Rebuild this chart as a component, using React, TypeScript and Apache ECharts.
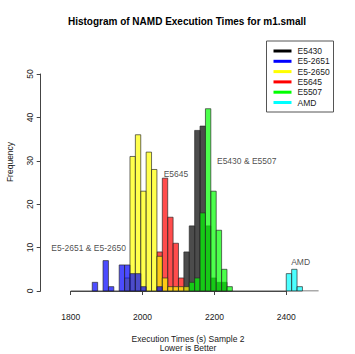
import React, { useEffect, useRef } from "react";
import * as echarts from "echarts";

const BIN_WIDTH = 15;
const seriesNames = ["E5430", "E5-2651", "E5-2650", "E5645", "E5507", "AMD"];
const legendColors = ["#000000", "#0000ff", "#ffff00", "#ff0000", "#00ff00", "#00ffff"];
const fillColors = [
  "rgba(0,0,0,0.7)",
  "rgba(0,0,255,0.7)",
  "rgba(255,255,0,0.7)",
  "rgba(255,0,0,0.7)",
  "rgba(0,255,0,0.7)",
  "rgba(0,255,255,0.7)",
];

// first bin lower edge and counts per bin (bin width 15 s)
const e5430Start = 2115;
const e5430Counts = [9, 15, 37, 38, 15, 3, 2, 2];
const e52651Start = 1860;
const e52651Counts = [2, 0, 7, 1, 0, 6, 6, 4, 4, 1, 0, 0, 1];
const e52650Start = 1950;
const e52650Counts = [3, 31, 36, 23, 32, 28, 8, 3, 1, 1, 1, 1];
const e5645Start = 2040;
const e5645Counts = [9, 26, 17, 11, 3];
const e5507Start = 2130;
const e5507Counts = [2, 3, 18, 42, 23, 14, 5, 1];
const amdStart = 2400;
const amdCounts = [4, 5, 1];

const xTicks = [1800, 2000, 2200, 2400];
const yTicks = [0, 10, 20, 30, 40, 50];

const annotations = [
  { text: "E5-2651 & E5-2650", x: 1850, y: 10 },
  { text: "E5645", x: 2093, y: 27 },
  { text: "E5430 & E5507", x: 2290, y: 30 },
  { text: "AMD", x: 2440, y: 6.6 },
];

const FONT = "Liberation Sans, Arial, Helvetica, sans-serif";
const FS = 8.5;
const TXT = "#1a1a1a";

function toBins(start: number, counts: number[]) {
  const out: number[][] = [];
  counts.forEach((c, i) => {
    if (c > 0) out.push([start + i * BIN_WIDTH, start + (i + 1) * BIN_WIDTH, c]);
  });
  return out;
}

export default function App() {
  const ref = useRef<HTMLDivElement>(null);
  useEffect(() => {
    if (!ref.current) return;
    const chart = echarts.init(ref.current, undefined, { renderer: "svg" });

    const histData: Record<string, number[][]> = {
      "E5430": toBins(e5430Start, e5430Counts),
      "E5-2651": toBins(e52651Start, e52651Counts),
      "E5-2650": toBins(e52650Start, e52650Counts),
      "E5645": toBins(e5645Start, e5645Counts),
      "E5507": toBins(e5507Start, e5507Counts),
      "AMD": toBins(amdStart, amdCounts),
    };
    // drawing order (later on top)
    const drawOrder = ["E5430", "E5645", "E5-2650", "E5-2651", "E5507", "AMD"];

    const histSeries = drawOrder.map((name) => {
      const idx = seriesNames.indexOf(name);
      const fill = fillColors[idx];
      return {
        type: "custom",
        name,
        xAxisIndex: 0,
        yAxisIndex: 0,
        encode: { x: [0, 1], y: 2 },
        data: histData[name],
        renderItem: (params: any, api: any) => {
          const p0 = api.coord([api.value(0), api.value(2)]);
          const p1 = api.coord([api.value(1), 0]);
          return {
            type: "rect",
            shape: { x: p0[0], y: p0[1], width: p1[0] - p0[0], height: p1[1] - p0[1] },
            style: { fill, stroke: "rgba(40,40,40,0.85)", lineWidth: 0.8 },
          };
        },
      };
    });

    const textStyleBase = { fontFamily: FONT, fontSize: FS, fill: TXT };

    const legendX = 266.5;
    const legendY = 41;
    const rowH = 10.3;
    const legendGraphics: any[] = [
      {
        type: "rect",
        shape: { x: legendX, y: legendY, width: 67, height: 71 },
        style: { fill: "#fff", stroke: "#555", lineWidth: 1 },
        z: 10,
      },
    ];
    seriesNames.forEach((n, i) => {
      const cy = legendY + 10 + i * rowH;
      legendGraphics.push({
        type: "line",
        shape: { x1: legendX + 7, y1: cy, x2: legendX + 25, y2: cy },
        style: { stroke: legendColors[i], lineWidth: 3 },
        z: 11,
      });
      legendGraphics.push({
        type: "text",
        x: legendX + 31,
        y: cy,
        style: { ...textStyleBase, text: n, textAlign: "left", textVerticalAlign: "middle", align: "left", verticalAlign: "middle" },
        z: 11,
      });
    });

    const option: any = {
      animation: false,
      title: {
        text: "Histogram of NAMD Execution Times for m1.small",
        left: 187,
        top: 16,
        padding: 0,
        textAlign: "center",
        textStyle: { fontFamily: FONT, fontSize: 10, fontWeight: "bold", color: "#000" },
      },
      grid: [
        { left: 70.7, top: 74, width: 247.9, height: 217, containLabel: false },
        { left: 70.7, top: 74, width: 215.6, height: 217, containLabel: false },
      ],
      xAxis: [
        { gridIndex: 0, type: "value", min: 1800, max: 2490, show: false },
        {
          gridIndex: 1,
          type: "value",
          min: xTicks[0],
          max: xTicks[xTicks.length - 1],
          interval: 200,
          offset: 12.5,
          axisLine: { show: true, lineStyle: { color: "#444", width: 1 } },
          axisTick: { show: true, length: 4, lineStyle: { color: "#444" } },
          axisLabel: { fontFamily: FONT, fontSize: FS, color: TXT, margin: 9, formatter: (v: number) => String(v) },
          splitLine: { show: false },
        },
      ],
      yAxis: [
        {
          gridIndex: 0,
          type: "value",
          min: yTicks[0],
          max: yTicks[yTicks.length - 1],
          interval: 10,
          offset: 30,
          axisLine: { show: true, lineStyle: { color: "#444", width: 1 } },
          axisTick: { show: true, length: 4, lineStyle: { color: "#444" } },
          axisLabel: { fontFamily: FONT, fontSize: FS, color: TXT, margin: 6, rotate: 90, formatter: (v: number) => String(v) },
          splitLine: { show: false },
        },
        { gridIndex: 1, type: "value", min: 0, max: 50, show: false },
      ],
      series: [
        {
          type: "line",
          xAxisIndex: 0,
          yAxisIndex: 0,
          data: [[1800, 0], [2490, 0]],
          symbol: "none",
          lineStyle: { color: "#555", width: 1 },
          silent: true,
          z: 1,
        },
        ...histSeries,
        {
          type: "scatter",
          xAxisIndex: 0,
          yAxisIndex: 0,
          symbolSize: 0,
          data: annotations.map((a) => ({
            value: [a.x, a.y],
            label: {
              show: true,
              position: "inside",
              formatter: a.text,
              fontFamily: FONT,
              fontSize: FS,
              color: TXT,
            },
          })),
          silent: true,
          z: 5,
        },
      ],
      graphic: [
        {
          type: "text",
          x: 9.5,
          y: 162,
          rotation: Math.PI / 2,
          style: { ...textStyleBase, text: "Frequency", textAlign: "center", textVerticalAlign: "middle", align: "center", verticalAlign: "middle" },
        },
        {
          type: "text",
          x: 188,
          y: 339,
          style: { ...textStyleBase, text: "Execution Times (s) Sample 2", textAlign: "center", textVerticalAlign: "middle", align: "center", verticalAlign: "middle" },
        },
        {
          type: "text",
          x: 188,
          y: 347.5,
          style: { ...textStyleBase, text: "Lower is Better", textAlign: "center", textVerticalAlign: "middle", align: "center", verticalAlign: "middle" },
        },
        ...legendGraphics,
      ],
    };
    chart.setOption(option);
    return () => chart.dispose();
  }, []);

  return <div ref={ref} style={{ width: 355, height: 354, position: "absolute", left: 0, top: 0 }} />;
}
